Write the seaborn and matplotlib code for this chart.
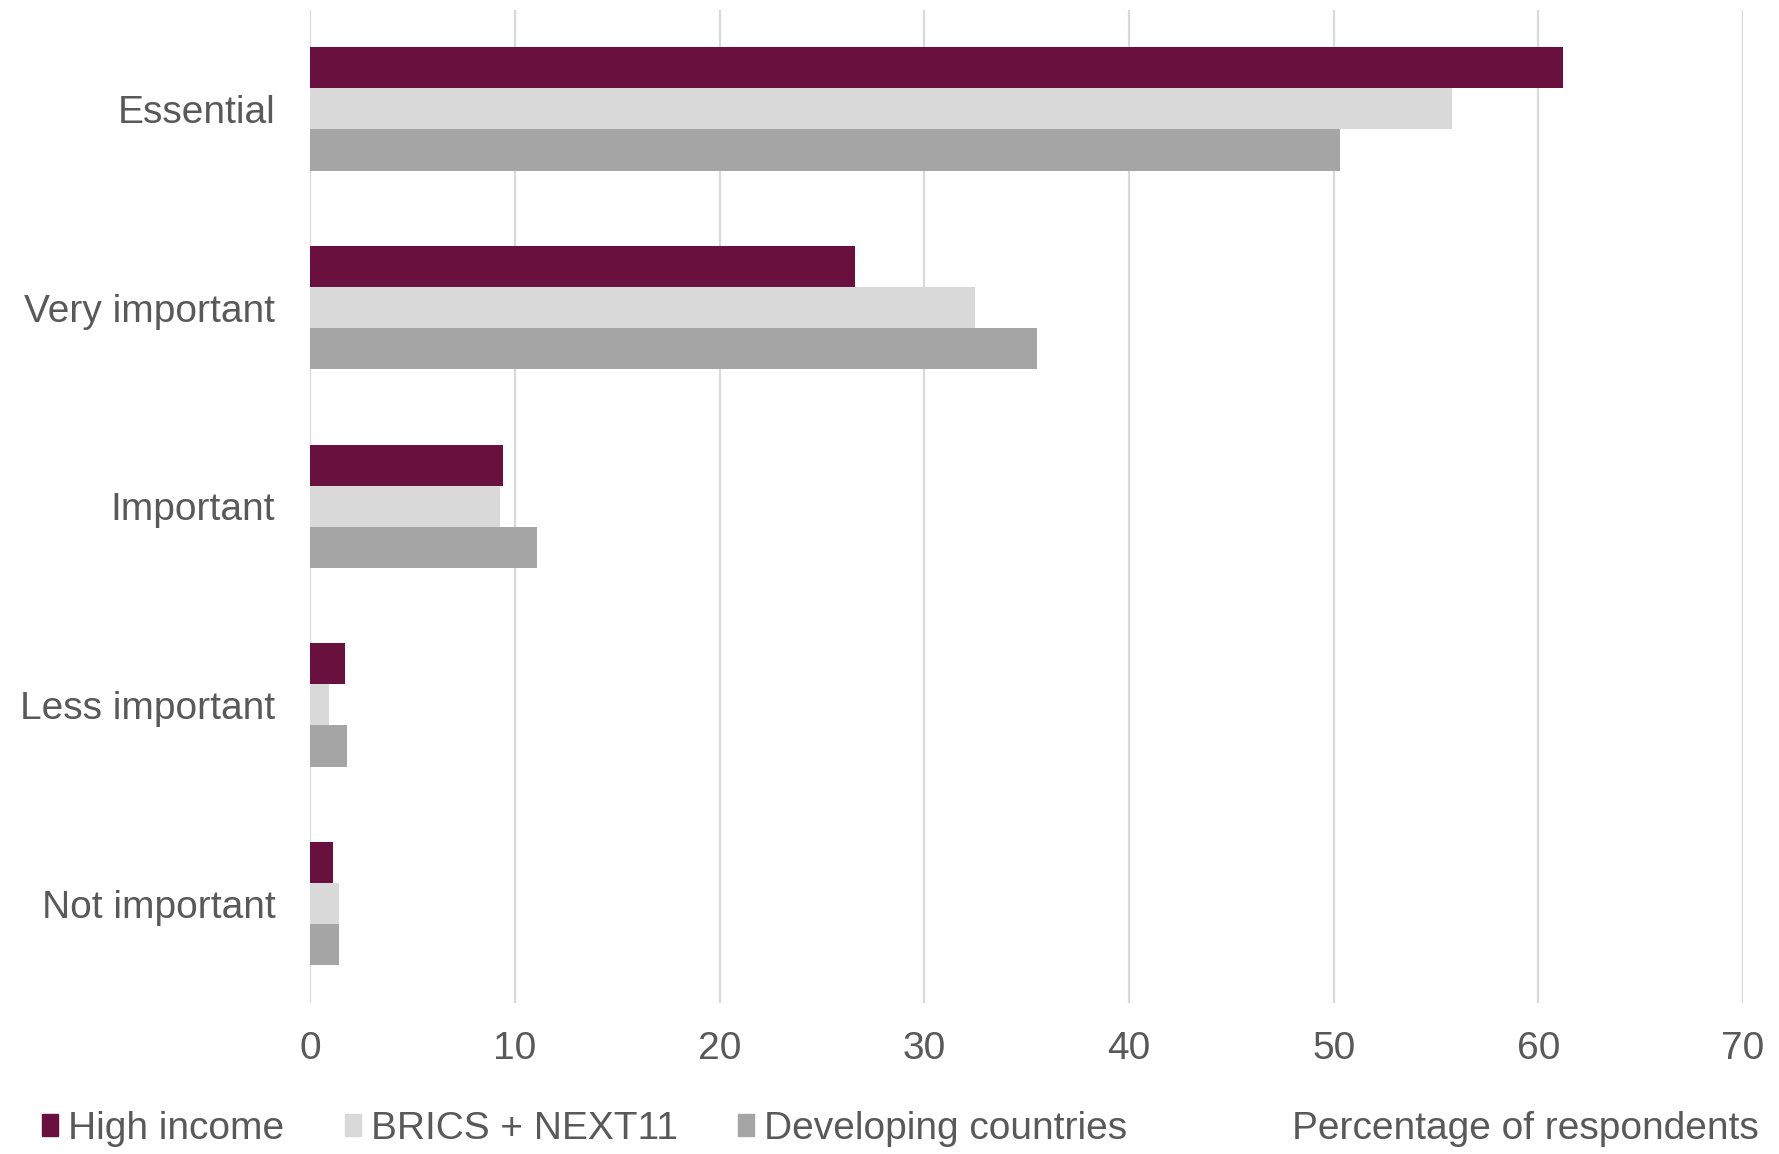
import pandas as pd
import matplotlib
matplotlib.use("Agg")
import matplotlib.pyplot as plt
import seaborn as sns

categories = ["Essential", "Very important", "Important", "Less important", "Not important"]
groups = ["High income", "BRICS + NEXT11", "Developing countries"]
high_income = [61.2, 26.6, 9.4, 1.7, 1.1]
brics_next11 = [55.8, 32.5, 9.3, 0.9, 1.4]
developing = [50.3, 35.5, 11.1, 1.8, 1.4]
xticks = [0, 10, 20, 30, 40, 50, 60, 70]
colors = ["#69103F", "#D9D9D9", "#A5A5A5"]
text_color = "#595959"

# long format for seaborn
rows = []
for g, vals in zip(groups, [high_income, brics_next11, developing]):
    for c, v in zip(categories, vals):
        rows.append({"category": c, "group": g, "value": v})
df = pd.DataFrame(rows)

sns.set_style("white")
plt.rcParams["font.family"] = ["Liberation Sans", "DejaVu Sans"]

fig = plt.figure(figsize=(17.79, 11.54), dpi=100)
ax = fig.add_axes([0.1743, 0.1309, 0.9798 - 0.1743, 0.9917 - 0.1309])

sns.barplot(data=df, y="category", x="value", hue="group", order=categories,
            hue_order=groups, palette=colors, width=0.62, orient="h",
            linewidth=0, saturation=1, ax=ax, legend=False)

ax.set_xlim(0, 70)
ax.set_ylim(4.5, -0.5)
ax.set_xticks(xticks)
ax.set_xticklabels([str(t) for t in xticks])
ax.xaxis.grid(True, color="#D9D9D9", linewidth=1.6)
ax.yaxis.grid(False)
ax.set_axisbelow(True)
for s in ax.spines.values():
    s.set_visible(False)
ax.tick_params(axis="both", length=0, labelsize=28, colors=text_color)
ax.tick_params(axis="y", pad=25)
ax.tick_params(axis="x", pad=20)
ax.set_xlabel("")
ax.set_ylabel("")

handles = [plt.Rectangle((0, 0), 1, 1, color=c) for c in colors]
fig.legend(handles, groups, loc="center left", bbox_to_anchor=(0.004, 0.022),
           ncol=3, frameon=False, fontsize=28, labelcolor=text_color,
           handlelength=0.42, handleheight=0.5, handletextpad=0.25,
           columnspacing=1.55)
fig.text(0.9888, 0.022, "Percentage of respondents", ha="right", va="center",
         fontsize=28, color=text_color)

fig.savefig("out.png", dpi=100)
